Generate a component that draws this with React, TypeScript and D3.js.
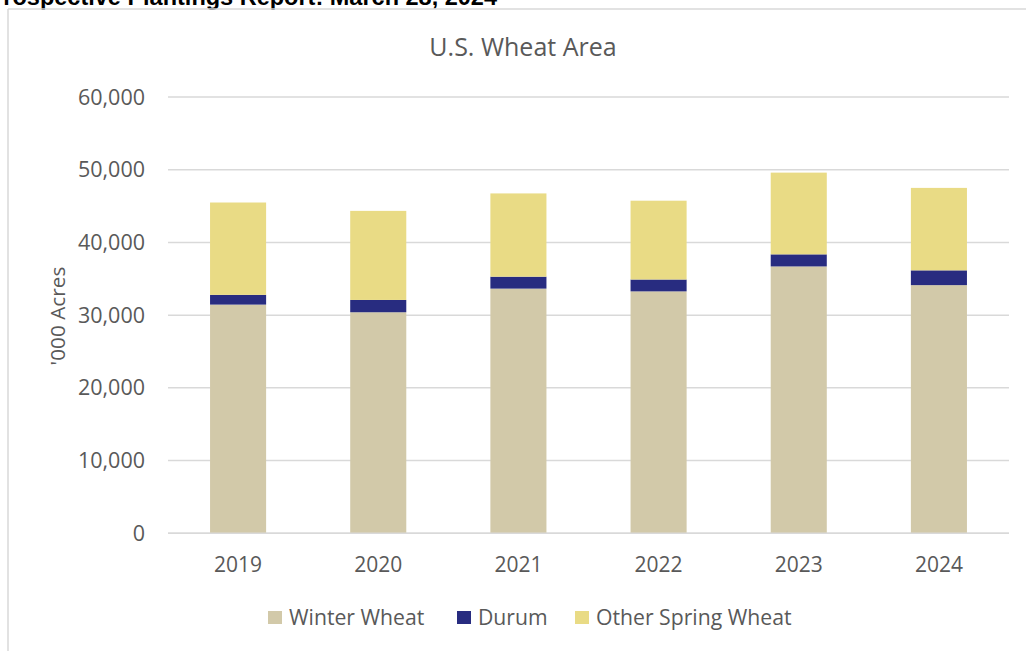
import * as d3 from "d3";

const years = ["2019", "2020", "2021", "2022", "2023", "2024"];
const winterWheat = [31450, 30400, 33650, 33270, 36700, 34130];
const durum = [1340, 1690, 1640, 1630, 1660, 2030];
const otherSpring = [12700, 12250, 11450, 10840, 11240, 11340];
const seriesNames = ["Winter Wheat", "Durum", "Other Spring Wheat"];
const seriesColors = ["#D2C9A9", "#282C80", "#E9DB85"];
const yTicks = [0, 10000, 20000, 30000, 40000, 50000, 60000];

const W = 1026;
const H = 651;
const FONT = "'Open Sans', sans-serif";
const TEXT = "#595959";

export default function App() {
  const x = d3.scaleBand().domain(years).range([168, 1009]).paddingInner(0.6).paddingOuter(0.3);
  const y = d3.scaleLinear().domain([0, 60000]).range([533.3, 97]);
  const fmt = d3.format(",");

  const rows = years.map((yr, i) => ({
    year: yr,
    "Winter Wheat": winterWheat[i],
    Durum: durum[i],
    "Other Spring Wheat": otherSpring[i],
  }));
  const stacked = d3.stack<any>().keys(seriesNames)(rows);

  const legendItems = [
    { name: seriesNames[0], x: 268 },
    { name: seriesNames[1], x: 457 },
    { name: seriesNames[2], x: 575 },
  ];

  return (
    <svg
      width={W}
      height={H}
      style={{ position: "fixed", left: 0, top: 0, background: "#fff" }}
    >
      <text
        x={497}
        y={5}
        textAnchor="end"
        fontFamily="'Liberation Sans', Arial, sans-serif"
        fontWeight="bold"
        fontSize={23.5}
        fill="#000"
      >
        Prospective Plantings Report: March 28, 2024
      </text>
      {/* chart frame */}
      <line x1={8} x2={W} y1={9} y2={9} stroke="#D9D9D9" strokeWidth={1.5} />
      <line x1={8} x2={8} y1={9} y2={H} stroke="#D9D9D9" strokeWidth={1.5} />

      <text x={523} y={47} dy="0.35em" textAnchor="middle" fontFamily={FONT} fontSize={25} fill={TEXT}>
        U.S. Wheat Area
      </text>

      {yTicks.map((t) => (
        <g key={t}>
          <line x1={168} x2={1009} y1={y(t)} y2={y(t)} stroke="#D9D9D9" strokeWidth={1.5} />
          <text
            x={145}
            y={y(t)}
            dy="0.35em"
            textAnchor="end"
            fontFamily={FONT}
            fontSize={21.5}
            fill={TEXT}
          >
            {fmt(t)}
          </text>
        </g>
      ))}

      <text
        transform={`translate(58,316) rotate(-90)`}
        textAnchor="middle"
        dy="0.35em"
        fontFamily={FONT}
        fontSize={20.8}
        fill={TEXT}
      >
        '000 Acres
      </text>

      {stacked.map((s, si) => (
        <g key={s.key} fill={seriesColors[si]}>
          {s.map((d) => (
            <rect
              key={d.data.year}
              x={x(d.data.year)}
              width={x.bandwidth()}
              y={y(d[1])}
              height={y(d[0]) - y(d[1])}
            />
          ))}
        </g>
      ))}
      <line x1={168} x2={1009} y1={y(0)} y2={y(0)} stroke="#D9D9D9" strokeWidth={1.5} />

      {years.map((yr) => (
        <text
          key={yr}
          x={(x(yr) ?? 0) + x.bandwidth() / 2}
          y={565}
          dy="0.35em"
          textAnchor="middle"
          fontFamily={FONT}
          fontSize={21}
          fill={TEXT}
        >
          {yr}
        </text>
      ))}

      {legendItems.map((it, i) => (
        <g key={it.name}>
          <rect x={it.x} y={611} width={14} height={13} fill={seriesColors[i]} />
          <text x={it.x + 21} y={618} dy="0.35em" fontFamily={FONT} fontSize={21.2} fill={TEXT}>
            {it.name}
          </text>
        </g>
      ))}
    </svg>
  );
}
